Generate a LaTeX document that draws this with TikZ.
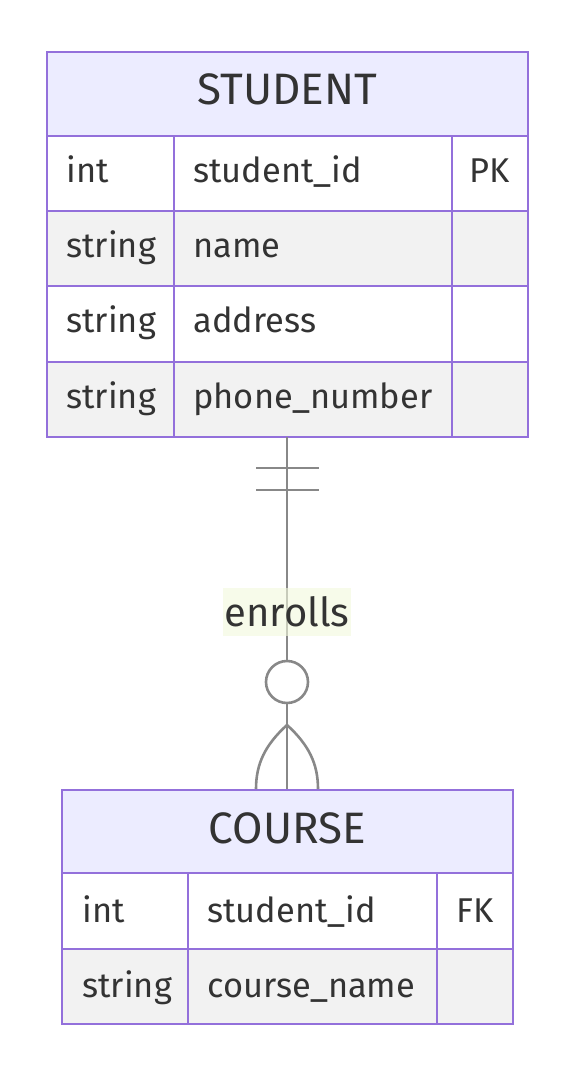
\documentclass[tikz,border=0pt]{standalone}
\usepackage{fontspec}
\setmainfont{Fira Sans}
\usepackage{tikz}

\definecolor{erborder}{HTML}{9370DB}
\definecolor{erhead}{HTML}{ECECFF}
\definecolor{errow}{HTML}{F2F2F2}
\definecolor{ertext}{HTML}{333333}
\definecolor{erline}{HTML}{888888}
\definecolor{lblbg}{HTML}{F1F8DC}

\begin{document}
\begin{tikzpicture}[x=0.5pt,y=-0.5pt,
        box/.style={draw=erborder, line width=1.4pt},
        attr/.style={anchor=base west, text=ertext, inner sep=0pt, font=\fontsize{17.2}{20}\selectfont},
        title/.style={anchor=base, text=ertext, inner sep=0pt, font=\fontsize{22}{26}\selectfont},
        rel/.style={draw=erline, line width=1.3pt},
        lbl/.style={fill=lblbg, fill opacity=0.6, text opacity=1, text=ertext, inner sep=0pt,
            minimum width=64pt, minimum height=24pt, font=\fontsize{20}{24}\selectfont}]

        \useasboundingbox (0,0) rectangle (579,1080);

        \draw[box, fill=erhead] (47,52) rectangle (528,136);
        \draw[box, fill=white] (47,136) rectangle (528,211);
        \draw[box, fill=errow] (47,211) rectangle (528,286);
        \draw[box, fill=white] (47,286) rectangle (528,362);
        \draw[box, fill=errow] (47,362) rectangle (528,437);
        \draw[box] (174,136) -- (174,437);
        \draw[box] (452,136) -- (452,437);

        \node[title] (student) at (287.5,105) {STUDENT};
        \node[attr] (s-type1) at (66,183) {int};
        \node[attr] (s-name1) at (193,183) {student\_id};
        \node[attr, anchor=base] (s-key1) at (490,183) {PK};
        \node[attr] (s-type2) at (66,258) {string};
        \node[attr] (s-name2) at (193,258) {name};
        \node[attr] (s-type3) at (66,333) {string};
        \node[attr] (s-name3) at (193,333) {address};
        \node[attr] (s-type4) at (66,408) {string};
        \node[attr] (s-name4) at (193,408) {phone\_number};

        \draw[box, fill=erhead] (62,790) rectangle (513,873);
        \draw[box, fill=white] (62,873) rectangle (513,949);
        \draw[box, fill=errow] (62,949) rectangle (513,1024);
        \draw[box] (188,873) -- (188,1024);
        \draw[box] (437,873) -- (437,1024);

        \node[title] (course) at (287.5,843) {COURSE};
        \node[attr] (c-type1) at (82,922) {int};
        \node[attr] (c-name1) at (207,922) {student\_id};
        \node[attr, anchor=base] (c-key1) at (475,922) {FK};
        \node[attr] (c-type2) at (82,997) {string};
        \node[attr] (c-name2) at (207,997) {course\_name};

        \coordinate (s-bot) at (287,437);
        \coordinate (c-top) at (287,789);
        \coordinate (crow) at ([yshift=32pt]c-top);
        \draw[rel] (s-bot) -- (c-top);
        \draw[rel] (s-bot) ++(-31,31) -- ++(63,0);
        \draw[rel] (s-bot) ++(-31,53) -- ++(63,0);
        \draw[rel, fill=white] ([yshift=53.5pt]c-top) circle (10.5pt);
        \draw[rel] (crow) .. controls +(-22,20) and +(0,-25) .. ([xshift=-15.5pt]c-top);
        \draw[rel] (crow) .. controls +(22,20) and +(0,-25) .. ([xshift=15.5pt]c-top);

        \node[lbl] (enrolls) at (287,612) {enrolls};
    \end{tikzpicture}
\end{document}
